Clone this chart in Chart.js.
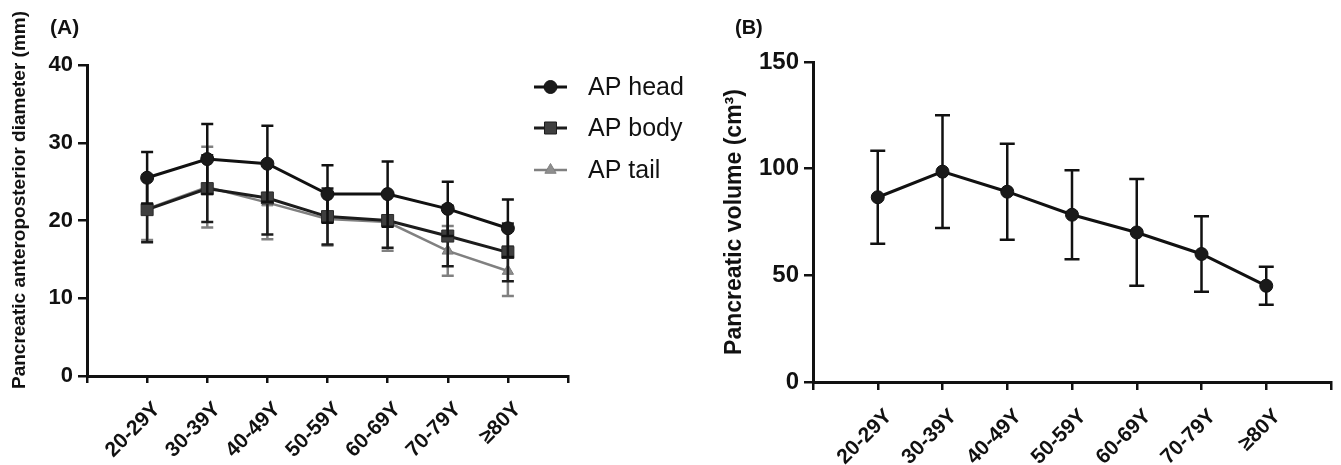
<!DOCTYPE html>
<html>
<head>
<meta charset="utf-8">
<script src="https://cdn.jsdelivr.net/npm/chart.js@4.4.0/dist/chart.umd.min.js"></script>
<style>
  html, body { margin: 0; padding: 0; background: #fff; }
  #wrap { position: relative; width: 1341px; height: 465px; }
  #chartA { position: absolute; left: 0; top: 0; }
  #chartB { position: absolute; left: 700px; top: 0; }
</style>
</head>
<body>
<div id="wrap">
  <canvas id="chartA" width="700" height="465"></canvas>
  <canvas id="chartB" width="641" height="465"></canvas>
</div>
<script>
// age groups (x categories)
const ageGroups = ['20-29Y', '30-39Y', '40-49Y', '50-59Y', '60-69Y', '70-79Y', '\u226580Y'];

// panel A: AP diameter (mm), mean and SD
const headValues = [25.5, 27.9, 27.3, 23.4, 23.4, 21.5, 19.0];
const headSD     = [3.3, 4.5, 4.9, 3.7, 4.2, 3.5, 3.7];
const bodyValues = [21.4, 24.1, 22.9, 20.5, 20.0, 18.0, 15.9];
const bodySD     = [4.2, 4.3, 4.7, 3.6, 3.5, 3.9, 3.7];
const tailValues = [21.5, 24.3, 22.3, 20.2, 19.8, 16.1, 13.5];
const tailSD     = [4.0, 5.2, 4.7, 3.4, 3.7, 3.2, 3.2];
const diameterTicks = [0, 10, 20, 30, 40];

// panel B: pancreatic volume (cm3), mean and SD
const volumeValues = [86.6, 98.6, 89.2, 78.4, 70.1, 60.0, 45.1];
const volumeSD     = [21.8, 26.4, 22.5, 20.9, 25.0, 17.7, 8.9];
const volumeTicks  = [0, 50, 100, 150];

const FONT = "'Liberation Sans', Arial, Helvetica, sans-serif";
Chart.defaults.font.family = FONT;
Chart.defaults.color = '#111';

function toPoints(values) {
    return values.map(function(v, i) { return { x: i + 1, y: v }; });
}

// error bars, drawn just before each dataset so they sit under its line
const errorBars = {
    id: 'errorBars',
    beforeDatasetDraw(chart, args, opts) {
        const ds = chart.data.datasets[args.index];
        if (!ds.sd) return;
        const ctx = chart.ctx;
        const y = chart.scales.y;
        const w = opts.capWidth || 6;
        ctx.save();
        ctx.strokeStyle = ds.errorColor || ds.borderColor;
        ctx.lineWidth = opts.lineWidth || 2.5;
        args.meta.data.forEach(function(pt, i) {
            const v = ds.data[i].y;
            const top = y.getPixelForValue(v + ds.sd[i]);
            const bot = y.getPixelForValue(v - ds.sd[i]);
            ctx.beginPath();
            ctx.moveTo(pt.x, top); ctx.lineTo(pt.x, bot);
            ctx.moveTo(pt.x - w, top); ctx.lineTo(pt.x + w, top);
            ctx.moveTo(pt.x - w, bot); ctx.lineTo(pt.x + w, bot);
            ctx.stroke();
        });
        ctx.restore();
    }
};

// panel letter and rotated y title
const panelText = {
    id: 'panelText',
    afterDraw(chart, args, opts) {
        const ctx = chart.ctx;
        ctx.save();
        ctx.fillStyle = '#111';
        ctx.textBaseline = 'middle';
        ctx.textAlign = 'left';
        ctx.font = opts.labelFont;
        ctx.fillText(opts.label, opts.labelX, opts.labelY);
        ctx.translate(opts.titleX, opts.titleY);
        ctx.rotate(-Math.PI / 2);
        ctx.textAlign = 'center';
        ctx.font = opts.titleFont;
        ctx.fillText(opts.title, 0, 0);
        ctx.restore();
    }
};

function drawMarker(ctx, style, x, y, r) {
    ctx.beginPath();
    if (style === 'circle') {
        ctx.arc(x, y, r, 0, Math.PI * 2);
    } else if (style === 'rect') {
        const s = r * Math.SQRT1_2;
        ctx.rect(x - s, y - s, 2 * s, 2 * s);
    } else if (style === 'triangle') {
        ctx.moveTo(x, y - r);
        ctx.lineTo(x + r * 0.866, y + r * 0.5);
        ctx.lineTo(x - r * 0.866, y + r * 0.5);
        ctx.closePath();
    }
    ctx.fill();
    ctx.stroke();
}

// legend with line + marker, like the GraphPad one
const sideLegend = {
    id: 'sideLegend',
    afterDraw(chart, args, opts) {
        const ctx = chart.ctx;
        ctx.save();
        chart.data.datasets.forEach(function(ds, i) {
            const y = opts.rows[i];
            ctx.strokeStyle = ds.borderColor;
            ctx.lineWidth = ds.borderWidth;
            ctx.beginPath();
            ctx.moveTo(opts.x0, y); ctx.lineTo(opts.x1, y);
            ctx.stroke();
            ctx.fillStyle = ds.pointBackgroundColor;
            ctx.lineWidth = 1;
            drawMarker(ctx, ds.pointStyle, (opts.x0 + opts.x1) / 2, y, ds.pointRadius);
            ctx.fillStyle = '#111';
            ctx.font = opts.font;
            ctx.textBaseline = 'middle';
            ctx.fillText(ds.label, opts.textX, y + 1);
        });
        ctx.restore();
    }
};

function axisX(height, font, tickLen, pad, shift) {
    return {
        type: 'linear', min: 0, max: 8,
        afterFit: function(s) { s.height = height; s.paddingLeft = 0; s.paddingRight = 0; },
        afterBuildTicks: function(s) { s.ticks = [0, 1, 2, 3, 4, 5, 6, 7, 8].map(function(v) { return { value: v }; }); },
        ticks: {
            autoSkip: false, minRotation: 45, maxRotation: 45, padding: pad, labelOffset: shift,
            color: '#111', font: font,
            callback: function(v) { return ageGroups[v - 1] || ''; }
        },
        grid: { display: true, drawOnChartArea: false, drawTicks: true, tickLength: tickLen, color: '#111', lineWidth: 2.5 },
        border: { display: true, color: '#111', width: 3 }
    };
}

function axisY(width, max, tickValues, font, tickLen) {
    return {
        min: 0, max: max,
        afterFit: function(s) { s.width = width; },
        afterBuildTicks: function(s) { s.ticks = tickValues.map(function(v) { return { value: v }; }); },
        ticks: { padding: 5, color: '#111', font: font },
        grid: { display: true, drawOnChartArea: false, drawTicks: true, tickLength: tickLen, color: '#111', lineWidth: 2.5 },
        border: { display: true, color: '#111', width: 3 }
    };
}

document.addEventListener('DOMContentLoaded', function() {
    try {
        new Chart(document.getElementById('chartA'), {
            type: 'line',
            data: {
                datasets: [{
                    label: 'AP head',
                    data: toPoints(headValues), sd: headSD,
                    borderColor: '#111', borderWidth: 3,
                    pointStyle: 'circle', pointRadius: 6.5, pointBackgroundColor: '#1a1a1a', pointBorderColor: '#111', pointBorderWidth: 1
                }, {
                    label: 'AP body',
                    data: toPoints(bodyValues), sd: bodySD,
                    borderColor: '#1c1c1c', borderWidth: 3,
                    pointStyle: 'rect', pointRadius: 8.5, pointBackgroundColor: '#3f3f3f', pointBorderColor: '#2a2a2a', pointBorderWidth: 1
                }, {
                    label: 'AP tail',
                    data: toPoints(tailValues), sd: tailSD,
                    borderColor: '#808080', borderWidth: 2.5,
                    pointStyle: 'triangle', pointRadius: 6.5, pointBackgroundColor: '#8e8e8e', pointBorderColor: '#7a7a7a', pointBorderWidth: 1
                }]
            },
            options: {
                responsive: false, animation: false, events: [],
                layout: { padding: { left: 0, top: 65, right: 132, bottom: 0 } },
                elements: { line: { tension: 0 } },
                plugins: {
                    legend: { display: false }, tooltip: { enabled: false },
                    errorBars: { capWidth: 6, lineWidth: 2.5 },
                    panelText: {
                        label: '(A)', labelX: 50, labelY: 28, labelFont: 'bold 21px ' + FONT,
                        title: 'Pancreatic anteroposterior diameter (mm)', titleX: 20, titleY: 200, titleFont: 'bold 19px ' + FONT
                    },
                    sideLegend: { x0: 534, x1: 567, textX: 588, rows: [87, 128, 170], font: '25px ' + FONT }
                },
                scales: {
                    x: axisX(89, { size: 21, weight: 'bold' }, 7, 14, 10),
                    y: axisY(87, 40, diameterTicks, { size: 22, weight: 'bold' }, 9)
                }
            },
            plugins: [errorBars, panelText, sideLegend]
        });
    } catch (e) { console.error('chart A', e); }

    try {
        new Chart(document.getElementById('chartB'), {
            type: 'line',
            data: {
                datasets: [{
                    label: 'Pancreatic volume',
                    data: toPoints(volumeValues), sd: volumeSD,
                    borderColor: '#111', borderWidth: 3,
                    pointStyle: 'circle', pointRadius: 6.5, pointBackgroundColor: '#1a1a1a', pointBorderColor: '#111', pointBorderWidth: 1
                }]
            },
            options: {
                responsive: false, animation: false, events: [],
                layout: { padding: { left: 0, top: 62, right: 10, bottom: 0 } },
                elements: { line: { tension: 0 } },
                plugins: {
                    legend: { display: false }, tooltip: { enabled: false },
                    errorBars: { capWidth: 7.5, lineWidth: 2.5 },
                    panelText: {
                        label: '(B)', labelX: 35, labelY: 28, labelFont: 'bold 20px ' + FONT,
                        title: 'Pancreatic volume (cm\u00b3)', titleX: 35, titleY: 222, titleFont: 'bold 23px ' + FONT
                    }
                },
                scales: {
                    x: axisX(83, { size: 21, weight: 'bold' }, 8, 14, 11),
                    y: axisY(113, 150, volumeTicks, { size: 24, weight: 'bold' }, 9)
                }
            },
            plugins: [errorBars, panelText]
        });
    } catch (e) { console.error('chart B', e); }
});
</script>
</body>
</html>
